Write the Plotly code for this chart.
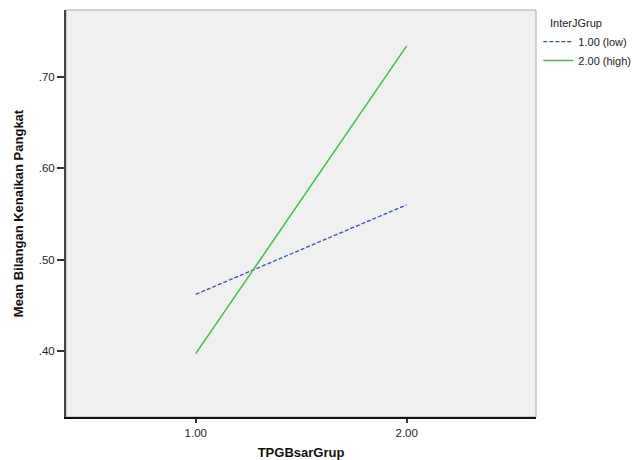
import plotly.graph_objects as go

x_groups = [1.0, 2.0]
low_means = [0.462, 0.560]
high_means = [0.397, 0.734]
series_names = ["1.00 (low)", "2.00 (high)"]
x_tick_vals = [1.0, 2.0]
x_tick_text = ["1.00", "2.00"]
y_tick_vals = [0.40, 0.50, 0.60, 0.70]
y_tick_text = [".40", ".50", ".60", ".70"]

font_family = "Liberation Sans, Arial, sans-serif"

fig = go.Figure()
fig.add_trace(go.Scatter(x=x_groups, y=low_means, mode="lines", name=series_names[0],
                         line=dict(color="#3551b5", width=1.3, dash="4px,2px")))
fig.add_trace(go.Scatter(x=x_groups, y=high_means, mode="lines", name=series_names[1],
                         line=dict(color="#3cc043", width=1.5)))

# light frame on top/right
fig.add_shape(type="rect", xref="paper", yref="paper", x0=0, x1=1, y0=0, y1=1,
              line=dict(color="#a8a8a8", width=1), layer="below")

fig.update_layout(
    width=638, height=460,
    margin=dict(l=66, r=102, t=10, b=43, autoexpand=False),
    paper_bgcolor="white",
    plot_bgcolor="#f0f0f0",
    font=dict(family=font_family, size=11.5, color="#222222"),
    showlegend=True,
    legend=dict(x=1.005, y=0.958, xanchor="left", yanchor="top",
                bgcolor="rgba(0,0,0,0)", font=dict(size=11, color="#222222"),
                itemwidth=30, tracegroupgap=0),
    annotations=[dict(text="InterJGrup", xref="paper", yref="paper", x=1.0255, y=0.968,
                      xanchor="left", yanchor="middle", showarrow=False,
                      font=dict(size=11, color="#222222"))],
)
fig.update_xaxes(range=[0.385, 2.613], tickvals=x_tick_vals, ticktext=x_tick_text,
                 showgrid=False, zeroline=False, showline=True, linecolor="#111111",
                 linewidth=2, ticks="outside", ticklen=4, tickwidth=1.5, tickcolor="#333333",
                 automargin=False,
                 title=dict(text="<b>TPGBsarGrup</b>", font=dict(size=13, color="#111111"), standoff=10))
fig.update_yaxes(range=[0.3277, 0.7733], tickvals=y_tick_vals, ticktext=y_tick_text,
                 showgrid=False, zeroline=False, showline=True, linecolor="#444444",
                 linewidth=2, ticks="outside", ticklen=7, tickwidth=1.5, tickcolor="#333333",
                 automargin=False,
                 title=dict(text="<b>Mean Bilangan Kenaikan Pangkat</b>", font=dict(size=13, color="#111111"), standoff=12))

fig.write_html("out.html")
